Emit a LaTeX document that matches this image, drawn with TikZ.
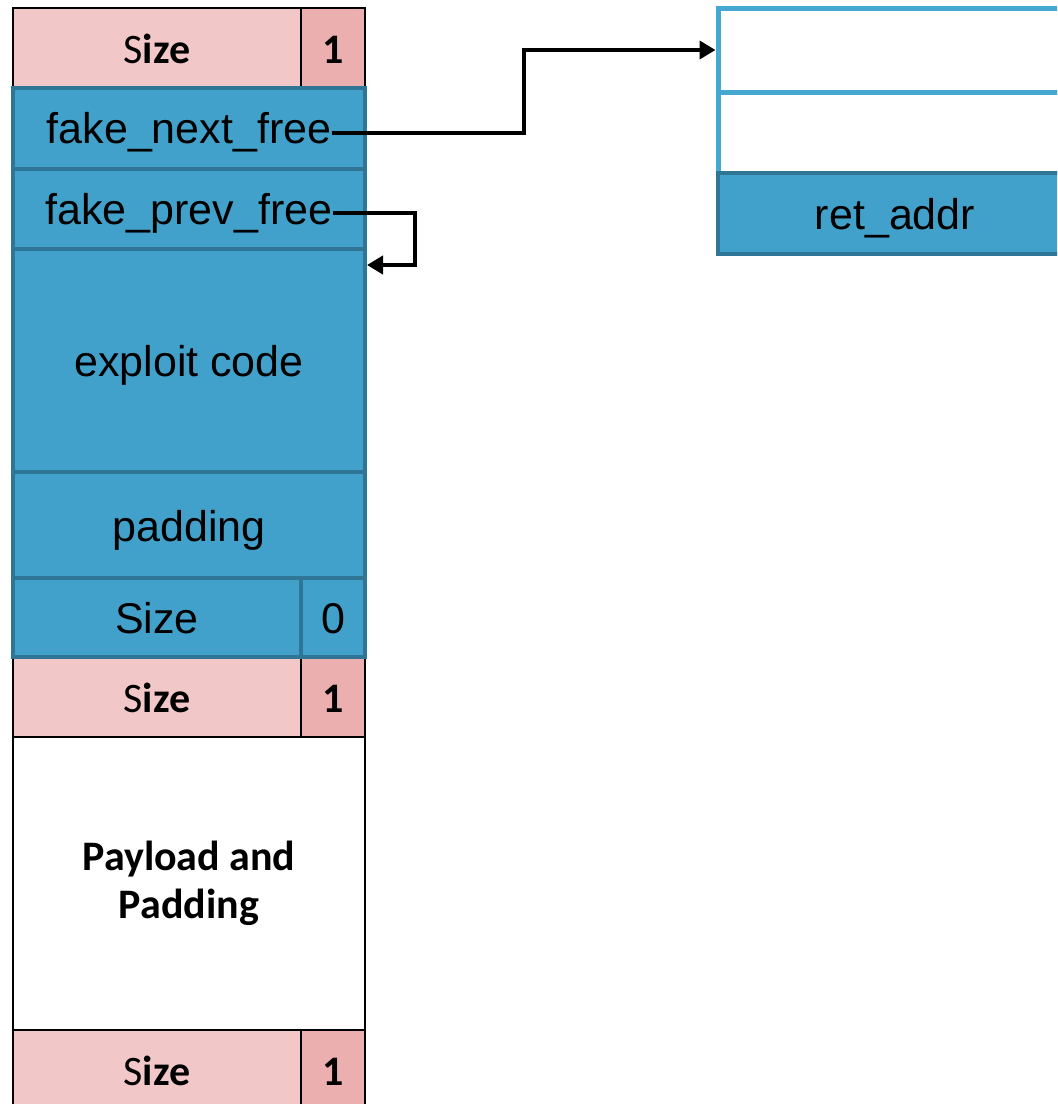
\documentclass[tikz,border=0pt]{standalone}
\usepackage{fontspec}
\setmainfont{Liberation Sans}
\newfontfamily\calibri{Carlito}
\usetikzlibrary{arrows.meta,positioning,calc}
\definecolor{chunkpink}{HTML}{F2C7C8}
\definecolor{flagpink}{HTML}{EBAFAF}
\definecolor{fakeblue}{HTML}{42A1CB}
\definecolor{fakeedge}{HTML}{2F7696}
\definecolor{stackedge}{HTML}{46A7D1}

\begin{document}
\begin{tikzpicture}[x=0.5pt, y=-0.5pt,
  pinkbase/.style={draw=black, line width=1pt, fill=chunkpink, inner sep=0pt,
    font=\calibri\bfseries\fontsize{21}{24}\selectfont},
  pinkcell/.style={pinkbase, text height=15.5pt, text depth=0pt},
  pinkflag/.style={pinkcell, fill=flagpink},
  bluecell/.style={draw=fakeedge, line width=2pt, fill=fakeblue, inner sep=0pt,
    text height=16pt, text depth=0pt, font=\fontsize{21.5}{25}\selectfont},
  bluetxt/.style={inner sep=0pt, yshift=-2pt, font=\fontsize{21.5}{25}\selectfont},
  slotcell/.style={draw=stackedge, line width=2.5pt, fill=white, inner sep=0pt},
  link/.style={draw=black, line width=2pt, -{Triangle[length=8pt,width=9pt]}}]
  \clip (0,0) rectangle (1057,1104);

  % Allocated chunk header
  \node[pinkcell, minimum width=144pt, minimum height=39.5pt] (sizeA) at (157,47.5) {{\mdseries S}ize};
  \node[pinkflag, minimum width=32pt, minimum height=39.5pt] (flagA) at (333,47.5) {1};

  % Next chunk header and payload
  \node[pinkcell, minimum width=144pt, minimum height=40pt] (sizeB) at (157,697) {{\mdseries S}ize};
  \node[pinkflag, minimum width=32pt, minimum height=40pt] (flagB) at (333,697) {1};
  \node[pinkbase, fill=white, minimum width=176pt, minimum height=146.5pt, align=center]
    (payload) at (189,883.5) {Payload and\\Padding};
  \node[pinkcell, minimum width=144pt, minimum height=40pt] (sizeC) at (157,1070) {{\mdseries S}ize};
  \node[pinkflag, minimum width=32pt, minimum height=40pt] (flagC) at (333,1070) {1};

  % Fake free chunk
  \node[bluecell, minimum width=176pt, minimum height=40.5pt] (nextfree) at (189,128.5) {};
  \node[bluetxt] (nexttxt) at (nextfree) {fake\_next\_free};
  \node[bluecell, minimum width=176pt, minimum height=40pt] (prevfree) at (189,209) {};
  \node[bluetxt] (prevtxt) at (prevfree) {fake\_prev\_free};
  \node[bluecell, minimum width=176pt, minimum height=111.5pt] (exploit) at (189,360.5) {exploit code};
  \node[bluecell, minimum width=176pt, minimum height=53pt] (padding) at (189,525) {padding};
  \node[bluecell, minimum width=144pt, minimum height=39.5pt] (sizeZ) at (157,617.5) {Size};
  \node[bluecell, minimum width=32pt, minimum height=39.5pt] (flagZ) at (333,617.5) {0};

  % Stack frame
  \node[slotcell, minimum width=177pt, minimum height=42pt] (topslot) at (895,50) {};
  \node[slotcell, minimum width=177pt, minimum height=40.5pt] (midslot) at (895,132.5) {};
  \node[bluecell, minimum width=177pt, minimum height=40.5pt] (retaddr) at (895,213.5) {ret\_addr};

  % Pointers
  \draw[link] (nexttxt.east) -| ($(nexttxt.east)!.5!(topslot.west)$) |- (topslot.west);
  \coordinate (backin) at ([yshift=-9pt]exploit.north east);
  \draw[link] (prevtxt.east) -- ++(41pt,0) |- (backin);
\end{tikzpicture}
\end{document}
